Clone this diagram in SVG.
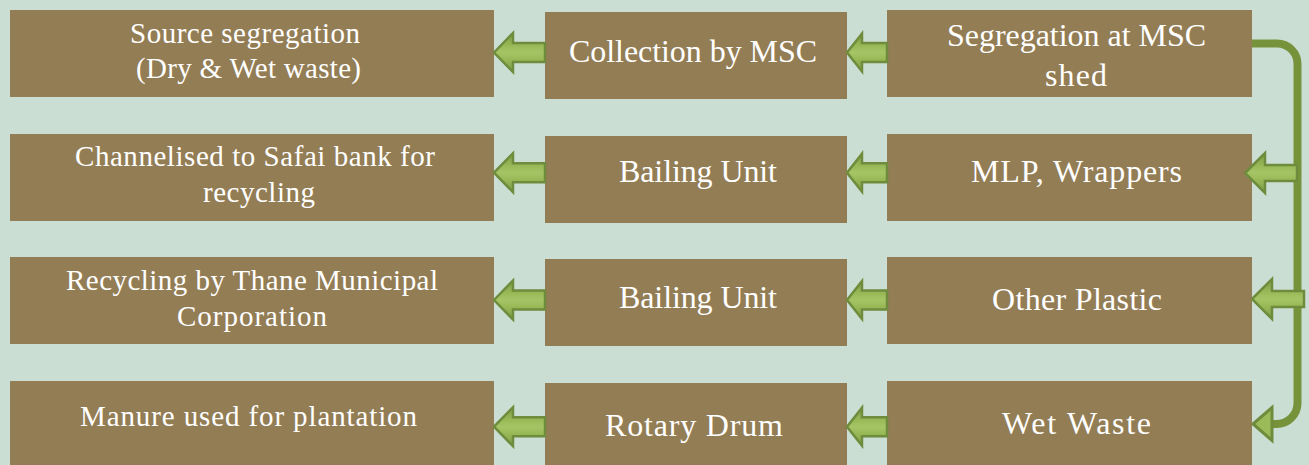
<svg xmlns="http://www.w3.org/2000/svg" width="1309" height="465" viewBox="0 0 1309 465">
<defs>
<style>
.box{fill:#937d55}
.t{fill:#ffffff;font-family:"Liberation Serif","Times New Roman",serif;text-anchor:middle}
.t1{font-size:29px}
.t2{font-size:32px}
.arr{fill:url(#g);stroke:#6f8c3d;stroke-width:2.5;stroke-linejoin:miter}
.line{fill:none;stroke:#76933c;stroke-width:8}
</style>
<linearGradient id="g" x1="0" y1="0" x2="0" y2="1">
<stop offset="0" stop-color="#7d9b45"/>
<stop offset="0.35" stop-color="#9bbb59"/>
<stop offset="0.5" stop-color="#a6c466"/>
<stop offset="0.65" stop-color="#9bbb59"/>
<stop offset="1" stop-color="#7d9b45"/>
</linearGradient>
<path id="a1" d="M0,0 L19,-19.5 L19,-9.5 L51,-9.5 L51,9.5 L19,9.5 L19,19.5 Z"/>
<path id="a2" d="M0,0 L15,-19 L15,-9.5 L40,-9.5 L40,9.5 L15,9.5 L15,19 Z"/>
<path id="a3" d="M0,0 L20,-20 L20,-8 L52,-8 L52,8 L20,8 L20,20 Z"/>
</defs>
<rect width="1309" height="465" fill="#cbded3"/>

<g id="n-source"><rect class="box" x="10" y="10" width="484" height="87"/>
<text class="t t1" x="245" y="43" textLength="230" lengthAdjust="spacing">Source segregation</text>
<text class="t t1" x="248.5" y="78" textLength="225" lengthAdjust="spacing">(Dry &amp; Wet waste)</text></g>
<g id="n-channel"><rect class="box" x="10" y="134" width="484" height="87"/>
<text class="t t1" x="255" y="166" textLength="360" lengthAdjust="spacing">Channelised to Safai bank for</text>
<text class="t t1" x="259" y="202" textLength="112" lengthAdjust="spacing">recycling</text></g>
<g id="n-recyc"><rect class="box" x="10" y="257" width="484" height="87"/>
<text class="t t1" x="252" y="290" textLength="372" lengthAdjust="spacing">Recycling by Thane Municipal</text>
<text class="t t1" x="252" y="326" textLength="150" lengthAdjust="spacing">Corporation</text></g>
<g id="n-manure"><rect class="box" x="10" y="381" width="484" height="84"/>
<text class="t t1" x="248.5" y="426" textLength="337" lengthAdjust="spacing">Manure used for plantation</text></g>

<g id="n-collect"><rect class="box" x="545" y="12" width="302" height="87"/>
<text class="t t2" x="693" y="62" textLength="248" lengthAdjust="spacing">Collection by MSC</text></g>
<g id="n-bail1"><rect class="box" x="545" y="136" width="302" height="87"/>
<text class="t t2" x="698" y="182" textLength="158" lengthAdjust="spacing">Bailing Unit</text></g>
<g id="n-bail2"><rect class="box" x="545" y="259" width="302" height="87"/>
<text class="t t2" x="698" y="308" textLength="158" lengthAdjust="spacing">Bailing Unit</text></g>
<g id="n-rotary"><rect class="box" x="545" y="383" width="302" height="82"/>
<text class="t t2" x="694" y="436" textLength="178" lengthAdjust="spacing">Rotary Drum</text></g>

<g id="n-seg"><rect class="box" x="887" y="10" width="365" height="87"/>
<text class="t t2" x="1076.5" y="46" textLength="259" lengthAdjust="spacing">Segregation at MSC</text>
<text class="t t2" x="1076" y="86" textLength="62" lengthAdjust="spacing">shed</text></g>
<g id="n-mlp"><rect class="box" x="887" y="134" width="365" height="87"/>
<text class="t t2" x="1076.5" y="182" textLength="211" lengthAdjust="spacing">MLP, Wrappers</text></g>
<g id="n-other"><rect class="box" x="887" y="257" width="365" height="87"/>
<text class="t t2" x="1077" y="310" textLength="170" lengthAdjust="spacing">Other Plastic</text></g>
<g id="n-wet"><rect class="box" x="887" y="381" width="365" height="84"/>
<text class="t t2" x="1076.5" y="434" textLength="149" lengthAdjust="spacing">Wet Waste</text></g>

<g id="connectors">
<use href="#a1" class="arr" x="494" y="52.5"/>
<use href="#a1" class="arr" x="494" y="172.7"/>
<use href="#a1" class="arr" x="494" y="300"/>
<use href="#a1" class="arr" x="494" y="426.7"/>
<use href="#a2" class="arr" x="847" y="52.5"/>
<use href="#a2" class="arr" x="847" y="172.7"/>
<use href="#a2" class="arr" x="847" y="300"/>
<use href="#a2" class="arr" x="847" y="426.7"/>
<path class="line" d="M1252,43.5 H1277 A20.5,20.5 0 0 1 1297.5,64 V403 A21,21 0 0 1 1276.5,424 H1270"/>
<use href="#a3" class="arr" x="1245" y="173"/>
<use href="#a3" class="arr" x="1252" y="299"/>
<path d="M1253,424 L1272,407.5 L1272,440.5 Z" fill="#9bbb59" stroke="#6f8c3d" stroke-width="3"/>
</g>
</svg>
